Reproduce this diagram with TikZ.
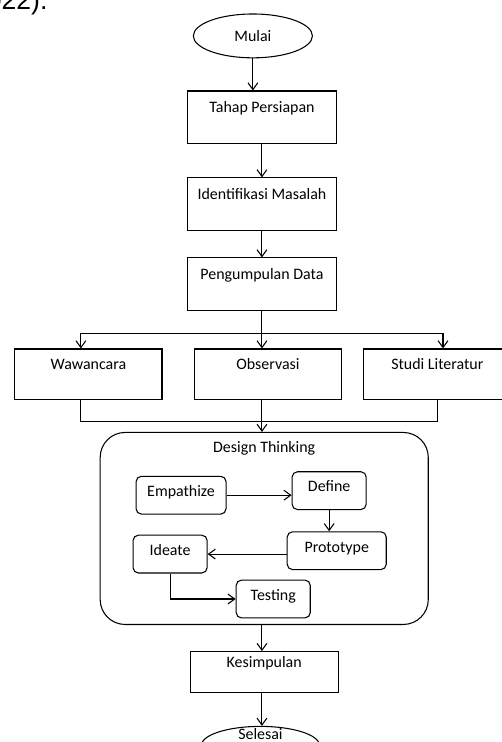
\documentclass[tikz,border=0pt]{standalone}
\usepackage{fontspec}
\setmainfont{Carlito}
\newfontfamily\arialfont{Liberation Sans}
\usetikzlibrary{positioning,arrows.meta,shapes.geometric}

\begin{document}
\begin{tikzpicture}[
  font=\fontsize{12}{14}\selectfont,
  prosesbox/.style={draw, line width=0.8pt, minimum width=3.92cm,
               minimum height=1.4cm, align=center,
               text height=8pt, text depth=15pt},
  ujung/.style={draw, ellipse, line width=0.8pt, minimum width=3.15cm,
               minimum height=1.16cm},
  fase/.style={draw, rounded corners=4pt, line width=0.8pt,
               minimum height=1.0cm, text height=8pt, text depth=6pt},
  wadah/.style={draw, rounded corners=0.66cm, line width=0.8pt,
               minimum width=8.68cm, minimum height=5.08cm},
  arr/.style={-{Straight Barb[length=1.8mm,width=2.6mm]}, line width=0.8pt},
  node distance=0.6cm
]
\path[use as bounding box, fill=white] (0,0) rectangle (13.28,-19.63);
\node[anchor=base east, font=\arialfont\fontsize{20}{24}\selectfont]
  (kutipan) at (1.38,-0.24) {022).};
\node[ujung] (mulai) at (6.69,-0.95) {Mulai};
\node[prosesbox, below=0.85cm of mulai, xshift=0.24cm] (persiapan)
  {Tahap Persiapan};
\node[prosesbox, below=0.87cm of persiapan] (identifikasi)
  {Identifikasi Masalah};
\node[prosesbox, below=0.69cm of identifikasi] (pengumpulan)
  {Pengumpulan Data};
\node[prosesbox, minimum width=3.89cm, minimum height=1.33cm,
      below=0.98cm of pengumpulan, xshift=-4.59cm] (wawancara) {Wawancara};
\node[prosesbox, minimum width=3.89cm, minimum height=1.33cm,
      below=0.98cm of pengumpulan, xshift=0.16cm] (observasi) {Observasi};
\node[prosesbox, minimum width=3.89cm, minimum height=1.33cm,
      below=0.98cm of pengumpulan, xshift=4.64cm] (studi) {Studi Literatur};
\node[wadah, below=0.85cm of observasi, xshift=-0.1cm] (dt) {};
\node[below=0.13cm of dt.north] (dtjudul) {Design Thinking};
\node[fase, minimum width=2.38cm,
      below right=1.16cm and 0.95cm of dt.north west] (empathize) {Empathize};
\node[fase, minimum width=1.96cm, right=1.72cm of empathize, yshift=0.12cm]
  (define) {Define};
\node[fase, minimum width=2.62cm, below=0.56cm of define, xshift=0.2cm]
  (prototype) {Prototype};
\node[fase, minimum width=1.96cm, left=2.09cm of prototype, yshift=-0.09cm]
  (ideate) {Ideate};
\node[fase, minimum width=1.96cm,
      below right=0.16cm and 0.74cm of ideate.south east] (testing) {Testing};
\node[prosesbox, minimum height=1.08cm, below=0.69cm of dt] (kesimpulan)
  {Kesimpulan};
\node[ujung, minimum width=3.12cm, minimum height=1.0cm, inner ysep=-4pt,
      text height=8pt, text depth=16pt, below=0.87cm of kesimpulan,
      xshift=-0.1cm] (selesai) {Selesai};
\draw[arr] (mulai) -- (mulai |- persiapan.north);
\draw[arr] (persiapan) -- (identifikasi);
\draw[arr] (identifikasi) -- (pengumpulan);
\coordinate[below=0.58cm of pengumpulan] (cabang);
\draw[line width=0.8pt] (pengumpulan) -- (cabang);
\draw[arr] (cabang) -| ([xshift=-0.2cm]wawancara.north);
\draw[arr] (cabang) -- (cabang |- observasi.north);
\draw[arr] (cabang) -| ([xshift=0.15cm]studi.north);
\path (cabang |- observasi.south) ++(0,-0.58) coordinate (gabung);
\draw[line width=0.8pt] ([xshift=-0.2cm]wawancara.south) |- (gabung)
  -| (studi.south);
\draw[line width=0.8pt] (cabang |- observasi.south) -- (gabung);
\draw[arr] (gabung) -- (gabung |- dt.north);
\draw[arr] (empathize.east) -- (empathize.east -| define.west);
\draw[arr] (define) -- (define |- prototype.north);
\draw[arr] (prototype.west |- ideate) -- (ideate);
\draw[arr] (ideate) |- (testing);
\draw[arr] (gabung |- dt.south) -- (gabung |- kesimpulan.north);
\draw[arr] (gabung |- kesimpulan.south) -- (gabung |- selesai.north);
\end{tikzpicture}
\end{document}
